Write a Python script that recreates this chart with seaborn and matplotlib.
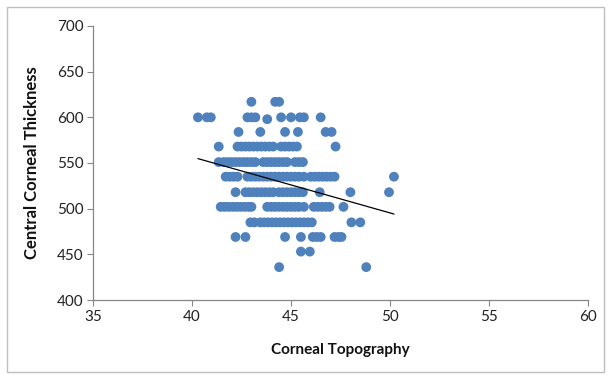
import numpy as np
import pandas as pd
import matplotlib
matplotlib.use("Agg")
import matplotlib.pyplot as plt
import seaborn as sns
from matplotlib.patches import Rectangle

# Data (rows of equal thickness)
thickness_levels = [617, 600, 598, 584, 568, 551, 535, 518, 502, 485, 469, 453, 436]
topography_rows = [
    [43.0, 44.2, 44.4],
    [40.3, 40.75, 40.95, 42.8, 43.0, 43.2, 44.5, 45.0, 45.45, 45.65, 46.5],
    [43.8],
    [42.35, 43.45, 44.7, 45.35, 46.75, 47.05],
    [41.35, 42.3, 42.5, 42.7, 42.9, 43.1, 43.3, 43.5, 43.7, 43.9, 44.1,
     44.5, 44.7, 44.9, 45.1, 45.3, 47.25],
    [41.35, 41.6, 41.8, 42.0, 42.2, 42.4, 42.6, 42.8, 43.0, 43.2, 43.6,
     43.8, 44.0, 44.2, 44.4, 44.6, 44.8, 45.2, 45.4, 45.6],
    [41.7, 41.9, 42.1, 42.3, 42.8, 43.0, 43.2, 43.4, 43.6, 43.8, 44.0,
     44.2, 44.4, 44.6, 44.8, 45.0, 45.2, 45.4, 45.65, 46.0, 46.2, 46.4,
     46.6, 46.8, 47.0, 47.2, 50.2],
    [42.2, 42.7, 42.9, 43.1, 43.3, 43.5, 43.7, 43.9, 44.1, 44.4, 44.6,
     44.8, 45.0, 45.2, 45.4, 45.6, 46.45, 48.0, 49.95],
    [41.45, 41.65, 41.85, 42.05, 42.25, 42.45, 42.65, 42.85, 43.0, 43.8,
     44.0, 44.2, 44.4, 44.6, 44.8, 45.0, 45.2, 45.4, 45.65, 46.15, 46.35,
     46.55, 46.75, 46.95, 47.65],
    [42.95, 43.15, 43.45, 43.65, 43.85, 44.05, 44.25, 44.45, 44.65, 44.85,
     45.05, 45.25, 45.45, 45.65, 45.85, 46.05, 48.05, 48.5],
    [42.2, 42.7, 44.7, 45.5, 46.1, 46.3, 46.5, 47.2, 47.4, 47.55],
    [45.5, 45.95],
    [44.4, 48.8],
]
x_ticks = [35, 40, 45, 50, 55, 60]
y_ticks = [400, 450, 500, 550, 600, 650, 700]

rows = []
for level, xs in zip(thickness_levels, topography_rows):
    for xv in xs:
        rows.append((xv, level))
df = pd.DataFrame(rows, columns=["Corneal Topography", "Central Corneal Thickness"])

sns.set_theme(style="white")
plt.rcParams["font.family"] = ["Lato", "DejaVu Sans"]

fig = plt.figure(figsize=(6.10, 3.75), dpi=100)
fig.patches.append(Rectangle((7 / 610, 3 / 375), 597 / 610, 365 / 375,
                             transform=fig.transFigure, fill=False,
                             edgecolor="#bfbfbf", linewidth=1.0))
ax = fig.add_axes([93 / 610, 75 / 375, 495 / 610, 274 / 375])

sns.scatterplot(data=df, x="Corneal Topography", y="Central Corneal Thickness",
                ax=ax, color="#4f81bd", s=50, edgecolor="none", linewidth=0,
                zorder=2)
sns.regplot(data=df, x="Corneal Topography", y="Central Corneal Thickness",
            ax=ax, scatter=False, ci=None, truncate=True,
            line_kws=dict(color="black", linewidth=0.9, zorder=3))

ax.set_xlim(35, 60)
ax.set_ylim(400, 700)
ax.set_xticks(x_ticks)
ax.set_yticks(y_ticks)
ax.tick_params(axis="both", which="major", direction="out", length=4,
               width=0.8, color="#868686", labelsize=11, labelcolor="#222222",
               bottom=True, left=True, pad=3)
for side in ["top", "right"]:
    ax.spines[side].set_visible(False)
for side in ["left", "bottom"]:
    ax.spines[side].set_color("#868686")
    ax.spines[side].set_linewidth(0.9)
ax.set_xlabel("Corneal Topography", fontsize=11, fontweight="bold",
              color="#111111", labelpad=14)
ax.set_ylabel("Central Corneal Thickness", fontsize=12, fontweight="bold",
              color="#111111", labelpad=12)
ax.grid(False)

fig.savefig("out.png", dpi=100)
